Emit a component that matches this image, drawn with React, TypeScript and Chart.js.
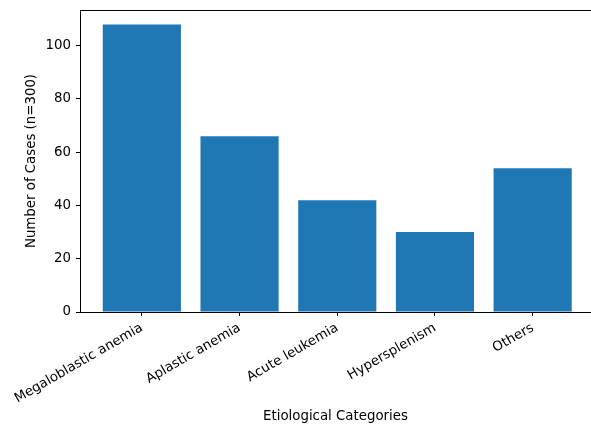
import React, { useEffect, useRef } from "react";
import { Chart, registerables } from "chart.js";

Chart.register(...registerables);

const categories = [
  "Megaloblastic anemia",
  "Aplastic anemia",
  "Acute leukemia",
  "Hypersplenism",
  "Others",
];
const caseCounts = [108, 66, 42, 30, 54];
const yTicks = [0, 20, 40, 60, 80, 100];

const FONT = "'DejaVu Sans', sans-serif";

const topSpinePlugin = {
  id: "topSpine",
  afterDraw(chart: any) {
    const { ctx, chartArea } = chart;
    const y = Math.round(chartArea.top) + 0.5;
    ctx.save();
    ctx.strokeStyle = "#000";
    ctx.lineWidth = 1;
    ctx.beginPath();
    ctx.moveTo(chartArea.left, y);
    ctx.lineTo(chartArea.right + 1, y);
    ctx.stroke();
    ctx.restore();
  },
};

export default function App() {
  const ref = useRef<HTMLCanvasElement | null>(null);

  useEffect(() => {
    document.body.style.margin = "0";
    if (!ref.current) return;
    const chart = new Chart(ref.current, {
      type: "bar",
      data: {
        datasets: [
          {
            label: "Cases",
            data: categories.map((_, i) => ({ x: i, y: caseCounts[i] })),
            backgroundColor: "#1f77b4",
            borderColor: "#1f77b4",
            borderWidth: 0,
            inflateAmount: 0,
            barPercentage: 1,
            categoryPercentage: 0.8,
          },
        ],
      },
      options: {
        animation: false,
        responsive: false,
        maintainAspectRatio: false,
        layout: { padding: { top: 10, right: 0, left: 0, bottom: 0 } },
        plugins: {
          legend: { display: false },
          tooltip: { enabled: false },
        },
        scales: {
          x: {
            type: "linear",
            offset: false,
            min: -0.633,
            max: 4.597,
            afterBuildTicks: (scale: any) => {
              scale.ticks = categories.map((_, i) => ({ value: i }));
            },
            afterFit: (scale: any) => {
              scale.height = 113;
              scale.paddingLeft = 0;
              scale.paddingRight = 0;
            },
            ticks: {
              autoSkip: false,
              maxRotation: 30,
              minRotation: 30,
              padding: 4,
              color: "#000",
              font: { family: FONT, size: 13.33 },
              callback: (v: any) => categories[Math.round(Number(v))] ?? "",
            },
            grid: {
              display: true,
              offset: false,
              drawOnChartArea: false,
              drawTicks: true,
              tickLength: 4,
              color: "#000",
            },
            border: { display: true, color: "#000", width: 1 },
            title: {
              display: true,
              text: "Etiological Categories",
              color: "#000",
              font: { family: FONT, size: 13.33 },
              padding: { top: 0, bottom: 0 },
            },
          },
          y: {
            type: "linear",
            min: 0,
            max: 113.4,
            afterBuildTicks: (scale: any) => {
              scale.ticks = yTicks.map((v) => ({ value: v }));
            },
            afterFit: (scale: any) => {
              scale.width = 80;
              scale.paddingTop = 0;
              scale.paddingBottom = 0;
            },
            ticks: {
              padding: 5,
              color: "#000",
              font: { family: FONT, size: 13.33 },
              includeBounds: false,
            },
            grid: {
              display: true,
              drawOnChartArea: false,
              drawTicks: true,
              tickLength: 4,
              color: "#000",
            },
            border: { display: true, color: "#000", width: 1 },
            title: {
              display: true,
              text: "Number of Cases (n=300)",
              color: "#000",
              font: { family: FONT, size: 13.33 },
              padding: { top: 24, bottom: 0 },
            },
          },
        },
      },
      plugins: [topSpinePlugin],
    });
    return () => chart.destroy();
  }, []);

  return (
    <div style={{ position: "absolute", left: 0, top: 0, width: 591, height: 425 }}>
      <canvas ref={ref} width={591} height={425} style={{ width: 591, height: 425 }} />
    </div>
  );
}
